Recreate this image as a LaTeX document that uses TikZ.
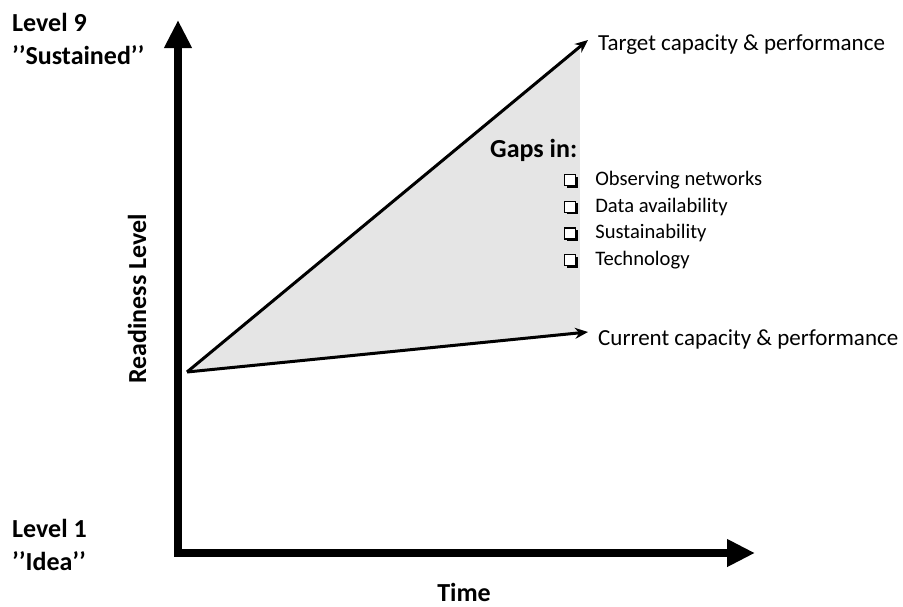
\documentclass[tikz,border=0pt]{standalone}
\usepackage{fontspec}
\setmainfont{Carlito}
\usetikzlibrary{arrows.meta,shadows,positioning,calc}
\definecolor{gapGray}{rgb}{0.9,0.9,0.9}

\tikzset{
  axis/.style={line width=8pt,line cap=rect,-{Triangle[length=28pt,width=26pt]}},
  capline/.style={line width=3pt,-{Stealth[length=13pt,width=11pt]}},
  lbl/.style={anchor=west,inner sep=0pt,font=\fontsize{23}{25}\selectfont},
  boldlbl/.style={lbl,font=\fontsize{26}{28}\selectfont\bfseries},
  chklbl/.style={lbl,font=\fontsize{20.6}{22}\selectfont},
  chkbox/.style={draw,line width=1.2pt,minimum size=11pt,inner sep=0pt,fill=white,
    drop shadow={shadow xshift=2pt,shadow yshift=-2pt,opacity=1,fill=black}}
}

\begin{document}
\begin{tikzpicture}[x=1pt,y=-1pt]
  \useasboundingbox (0,0) rectangle (903,606);

  % the corners and tips
  \coordinate (corner) at (178,553);
  \coordinate (ytip) at (178,20);
  \coordinate (xtip) at (755,553);
  \coordinate (start) at (187,372);
  \coordinate (target) at (588,40);
  \coordinate (current) at (588,332);

  % draw the gap region
  \fill[gapGray] (start) -- ($(start)!0.98!(target)$) -- ($(start)!0.98!(current)$) -- cycle;

  % draw the axes
  \draw[axis] (corner) -- (ytip);
  \draw[axis] (corner) -- (xtip);

  % draw the capacity lines
  \draw[capline] (start) -- (target);
  \draw[capline] (start) -- (current);

  % label the axes
  \node[boldlbl] (lvl9) at (12,22) {Level 9};
  \node[boldlbl] (sust) at (12,55) {’’Sustained’’};
  \node[boldlbl] (lvl1) at (12,528) {Level 1};
  \node[boldlbl] (idea) at (12,561) {’’Idea’’};
  \node[boldlbl,rotate=90,anchor=center] (ready) at (137,299) {Readiness Level};
  \node[boldlbl,anchor=center] (time) at (464,592) {Time};

  % label the lines
  \node[lbl] (tgt) at (598,45) {Target capacity \& performance};
  \node[lbl] (cur) at (598,339) {Current capacity \& performance};

  % the list of gaps
  \node[boldlbl] (gaps) at (490,150) {Gaps in:};
  \foreach \gapname [count=\ni] in {Observing networks,Data availability,Sustainability,Technology}
  {
    \pgfmathsetmacro\yy{180+26.7*(\ni-1)}
    \node[chkbox] (box\ni) at (570,\yy) {};
    \node[chklbl,right=19pt of box\ni] (gap\ni) {\gapname};
  }

\end{tikzpicture}
\end{document}
